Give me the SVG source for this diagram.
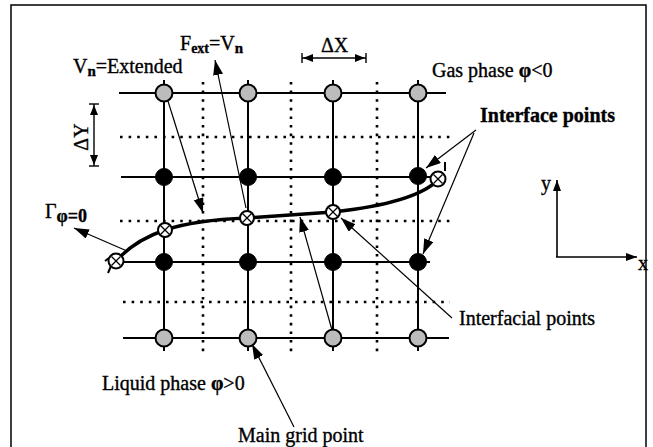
<svg xmlns="http://www.w3.org/2000/svg" width="653" height="447" viewBox="0 0 653 447">
<defs>
<style>
.t{font-family:"Liberation Serif","Times New Roman",serif;font-size:20px;fill:#000;stroke:#000;stroke-width:0.35}
.grid{stroke:#000;stroke-width:2;fill:none}
.dot{stroke:#000;stroke-width:2.6;stroke-dasharray:2.6 6;fill:none}
.gray{fill:#bcbcbc;stroke:#000;stroke-width:2}
.blk{fill:#000;stroke:#000;stroke-width:1}
.ifc{fill:#fff;stroke:#000;stroke-width:2}
.cross{stroke:#000;stroke-width:1.3}
.arr{stroke:#000;stroke-width:1.2;fill:none;marker-end:url(#ah)}
.dim{stroke:#000;stroke-width:1.4;fill:none;marker-start:url(#dh);marker-end:url(#dh)}
.ax{stroke:#000;stroke-width:1.6;fill:none;marker-end:url(#axh)}
</style>
<marker id="ah" markerUnits="userSpaceOnUse" markerWidth="16" markerHeight="12" refX="15" refY="5" orient="auto">
<path d="M0,0 L15,5 L0,10 Z" fill="#000"/>
</marker>
<marker id="dh" markerUnits="userSpaceOnUse" markerWidth="12" markerHeight="12" refX="11" refY="5" orient="auto-start-reverse">
<path d="M0,1 L10,5 L0,9 Z" fill="#000"/><path d="M11,0 V10" stroke="#000" stroke-width="1.4"/>
</marker>
<marker id="axh" markerUnits="userSpaceOnUse" markerWidth="12" markerHeight="10" refX="11" refY="4" orient="auto">
<path d="M0,0 L11,4 L0,8 Z" fill="#000"/>
</marker>
<g id="xc"><line class="cross" x1="-4.5" y1="-4.5" x2="4.5" y2="4.5"/><line class="cross" x1="-4.5" y1="4.5" x2="4.5" y2="-4.5"/></g>
</defs>
<rect x="0" y="0" width="653" height="447" fill="#fff"/>
<rect x="11" y="5" width="635" height="460" fill="none" stroke="#000" stroke-width="1.5"/>

<g id="dotted-grid">
<line class="dot" x1="203" y1="82" x2="203" y2="354"/>
<line class="dot" x1="291" y1="82" x2="291" y2="354"/>
<line class="dot" x1="377" y1="82" x2="377" y2="354"/>
<line class="dot" x1="120" y1="137" x2="450" y2="137"/>
<line class="dot" x1="120" y1="221" x2="450" y2="221"/>
<line class="dot" x1="123" y1="302" x2="450" y2="302"/>
</g>

<g id="main-grid">
<line class="grid" x1="119" y1="93" x2="446" y2="93"/>
<line class="grid" x1="121" y1="177" x2="432" y2="177"/>
<line class="grid" x1="118" y1="262" x2="430" y2="262"/>
<line class="grid" x1="123" y1="338" x2="449" y2="338"/>
<line class="grid" x1="164" y1="80" x2="164" y2="351"/>
<line class="grid" x1="248" y1="80" x2="248" y2="351"/>
<line class="grid" x1="333" y1="80" x2="333" y2="351"/>
<line class="grid" x1="418" y1="80" x2="418" y2="351"/>
</g>

<g id="interface-curve">
<path d="M116,261 Q135,240 165,230 Q195,220 247,218 L333,212 Q415,203 438,180" fill="none" stroke="#000" stroke-width="3.5"/>
</g>

<g id="connectors">
<line class="arr" x1="167" y1="98" x2="203" y2="213"/>
<line class="arr" x1="246" y1="208" x2="215" y2="60"/>
<line class="arr" x1="332" y1="330" x2="300" y2="217"/>
<line class="arr" x1="452" y1="318" x2="341" y2="218"/>
<line class="arr" x1="476" y1="130" x2="426" y2="168"/>
<line class="arr" x1="474" y1="133" x2="423" y2="254"/>
<line class="arr" x1="127" y1="251" x2="74" y2="228"/>
<line class="arr" x1="294" y1="427" x2="252" y2="344"/>
<line class="dim" x1="302" y1="58" x2="366" y2="58"/>
<line class="dim" x1="94" y1="104" x2="94" y2="166"/>
<line class="ax" x1="557" y1="257" x2="557" y2="180"/>
<line class="ax" x1="556" y1="257" x2="637" y2="257"/>
</g>

<g id="gas-nodes">
<circle class="gray" cx="164" cy="93" r="8.5"/>
<circle class="gray" cx="248" cy="93" r="8.5"/>
<circle class="gray" cx="333" cy="93" r="8.5"/>
<circle class="gray" cx="418" cy="93" r="8.5"/>
</g>
<g id="black-nodes-upper">
<circle class="blk" cx="164" cy="177" r="8.5"/>
<circle class="blk" cx="248" cy="177" r="8.5"/>
<circle class="blk" cx="333" cy="177" r="8.5"/>
<circle class="blk" cx="418" cy="176" r="8.5"/>
</g>
<g id="black-nodes-lower">
<circle class="blk" cx="164" cy="262" r="8.5"/>
<circle class="blk" cx="248" cy="262" r="8.5"/>
<circle class="blk" cx="333" cy="262" r="8.5"/>
<circle class="blk" cx="418" cy="262" r="8.5"/>
</g>
<g id="liquid-nodes">
<circle class="gray" cx="164" cy="338" r="8.5"/>
<circle class="gray" cx="248" cy="338" r="8.5"/>
<circle class="gray" cx="333" cy="338" r="8.5"/>
<circle class="gray" cx="418" cy="338" r="8.5"/>
</g>
<g id="interface-nodes">
<line x1="111" y1="266" x2="108" y2="273" stroke="#000" stroke-width="2"/>
<line x1="109" y1="258" x2="105" y2="261" stroke="#000" stroke-width="2"/>
<circle class="ifc" cx="116" cy="261" r="7.5"/>
<use href="#xc" x="116" y="261"/>
<circle class="ifc" cx="165" cy="230" r="7"/>
<use href="#xc" x="165" y="230"/>
<circle class="ifc" cx="247" cy="218" r="7"/>
<use href="#xc" x="247" y="218"/>
<circle class="ifc" cx="333" cy="212" r="7"/>
<use href="#xc" x="333" y="212"/>
<line x1="445" y1="162" x2="445" y2="171" stroke="#000" stroke-width="2"/>
<circle class="ifc" cx="438" cy="179" r="7.5"/>
<use href="#xc" x="438" y="179"/>
</g>

<g id="labels">
<text class="t" x="73" y="73" font-size="19">V<tspan font-size="15" font-weight="bold" dy="3">n</tspan><tspan dy="-3">=Extended</tspan></text>
<text class="t" x="180" y="50">F<tspan font-size="14" font-weight="bold" dy="3">ext</tspan><tspan dy="-3">=V</tspan><tspan font-size="15" font-weight="bold" dy="3">n</tspan></text>
<text class="t" x="321" y="52" font-size="16">ΔX</text>
<text class="t" x="0" y="0" font-size="16" text-anchor="middle" transform="translate(88,137) rotate(-90)">ΔY</text>
<text class="t" x="432" y="77">Gas phase <tspan font-weight="bold">φ</tspan>&lt;0</text>
<text class="t" x="480" y="122" font-weight="bold" font-size="19">Interface points</text>
<text class="t" x="459" y="325">Interfacial points</text>
<text class="t" x="102" y="390">Liquid phase <tspan font-weight="bold">φ</tspan>&gt;0</text>
<text class="t" x="238" y="442">Main grid point</text>
<text class="t" x="45" y="218" font-size="24">Γ<tspan font-size="18" font-weight="bold" dy="4">φ=0</tspan></text>
<text class="t" x="541" y="190" font-size="18">y</text>
<text class="t" x="638" y="270" font-size="18">x</text>
</g>
</svg>
